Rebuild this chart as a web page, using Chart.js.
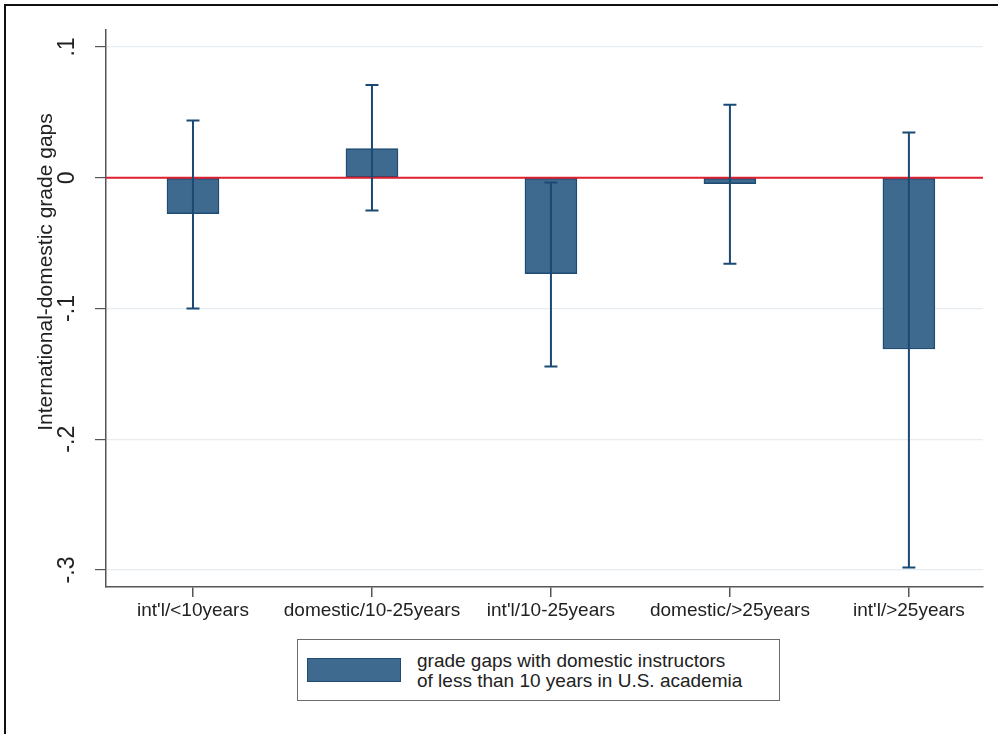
<!DOCTYPE html>
<html>
<head>
<meta charset="utf-8">
<script src="https://cdn.jsdelivr.net/npm/chart.js@4"></script>
<style>
  body { margin: 0; background: #fff; font-family: "Liberation Sans", Arial, sans-serif; }
  #wrap { position: relative; width: 998px; height: 734px; overflow: hidden; }
  #frame { position: absolute; left: 4px; top: 4px; width: 1100px; height: 900px;
           border-left: 2px solid #111; border-top: 2px solid #111; pointer-events: none; }
  #legend { position: absolute; left: 297px; top: 639px; width: 481px; height: 60px;
            border: 1.5px solid #6b6b6b; background: #fff; }
  #legend .swatch { position: absolute; left: 9px; top: 18px; width: 92px; height: 22px;
                    background: #3e6a8f; border: 1.5px solid #1d4b72; }
  #legend .text { position: absolute; left: 119px; top: 11px; font-size: 19px; line-height: 20px;
                  color: #222; white-space: nowrap; }
</style>
</head>
<body>
<div id="wrap">
  <canvas id="gapChart"></canvas>
  <div id="frame"></div>
  <div id="legend">
    <div class="swatch"></div>
    <div class="text">grade gaps with domestic instructors<br>of less than 10 years in U.S. academia</div>
  </div>
</div>
<script>
// Danh mục nhóm giảng viên
const categories = ["int'l/<10years", "domestic/10-25years", "int'l/10-25years", "domestic/>25years", "int'l/>25years"];
const xPositions = [1, 2, 3, 4, 5];
// Chênh lệch điểm và khoảng tin cậy
const gaps = [-0.0275, 0.0224, -0.0734, -0.0046, -0.131];
const ciLower = [-0.100, -0.025, -0.1443, -0.0658, -0.298];
const ciUpper = [0.0438, 0.071, -0.0036, 0.0558, 0.0347];
// Nhãn trục y
const yTickValues = [0.1, 0, -0.1, -0.2, -0.3];
const yTickLabels = ['.1', '0', '-.1', '-.2', '-.3'];
const yTitle = 'International-domestic grade gaps';

const barColor = '#3e6a8f';
const barBorder = '#1d4b72';
const whiskerColor = '#1a4a73';

// Vẽ đường 0, thanh sai số, nhãn trục y xoay dọc
const extrasPlugin = {
    id: 'extras',
    afterDatasetsDraw(chart) {
        const ctx = chart.ctx;
        const xs = chart.scales.x;
        const ys = chart.scales.y;
        const area = chart.chartArea;

        // đường tham chiếu đỏ tại 0
        const y0 = ys.getPixelForValue(0);
        ctx.save();
        ctx.strokeStyle = '#e0202e';
        ctx.lineWidth = 2;
        ctx.beginPath();
        ctx.moveTo(area.left, y0);
        ctx.lineTo(area.right, y0);
        ctx.stroke();

        // thanh sai số
        ctx.strokeStyle = whiskerColor;
        ctx.lineWidth = 2;
        const cap = 6.5;
        for (let i = 0; i < xPositions.length; i++) {
            const x = xs.getPixelForValue(xPositions[i]);
            const yLo = ys.getPixelForValue(ciLower[i]);
            const yHi = ys.getPixelForValue(ciUpper[i]);
            ctx.beginPath();
            ctx.moveTo(x, yLo);
            ctx.lineTo(x, yHi);
            ctx.moveTo(x - cap, yLo);
            ctx.lineTo(x + cap, yLo);
            ctx.moveTo(x - cap, yHi);
            ctx.lineTo(x + cap, yHi);
            ctx.stroke();
        }
        ctx.restore();
    },
    afterDraw(chart) {
        const ctx = chart.ctx;
        const ys = chart.scales.y;
        ctx.save();
        ctx.fillStyle = '#222';
        ctx.textAlign = 'center';
        ctx.textBaseline = 'alphabetic';
        // nhãn tick trục y
        ctx.font = '23px "Liberation Sans", Arial, sans-serif';
        ys.ticks.forEach(t => {
            const y = ys.getPixelForValue(t.value);
            ctx.save();
            ctx.translate(74, y);
            ctx.rotate(-Math.PI / 2);
            ctx.fillText(t.label, 0, 0);
            ctx.restore();
        });
        // tiêu đề trục y
        ctx.font = '21px "Liberation Sans", Arial, sans-serif';
        ctx.translate(52, 272);
        ctx.rotate(-Math.PI / 2);
        ctx.fillText(yTitle, 0, 0);
        ctx.restore();
    }
};

const ctx = document.getElementById('gapChart').getContext('2d');
new Chart(ctx, {
    type: 'bar',
    data: {
        datasets: [{
            label: 'grade gaps with domestic instructors of less than 10 years in U.S. academia',
            data: xPositions.map((x, i) => ({ x: x, y: gaps[i] })),
            backgroundColor: barColor,
            borderColor: barBorder,
            borderWidth: 1.5,
            borderSkipped: false,
            barThickness: 52
        }]
    },
    options: {
        responsive: true,
        maintainAspectRatio: false,
        animation: false,
        layout: { padding: { left: 0, right: 15, top: 30, bottom: 107 } },
        plugins: {
            legend: { display: false },
            tooltip: { enabled: false }
        },
        scales: {
            x: {
                type: 'linear',
                offset: false,
                min: 0.514,
                max: 5.414,
                afterBuildTicks: scale => { scale.ticks = xPositions.map(v => ({ value: v })); },
                afterFit: scale => { scale.height = 40; },
                grid: { offset: false, drawOnChartArea: false, drawTicks: true, tickLength: 10, color: '#555', lineWidth: 1.5 },
                border: { color: '#555', width: 1.5 },
                ticks: {
                    autoSkip: false,
                    maxRotation: 0,
                    padding: 2,
                    color: '#222',
                    font: { family: '"Liberation Sans", Arial, sans-serif', size: 19 },
                    callback: value => categories[xPositions.indexOf(value)]
                }
            },
            y: {
                min: -0.313,
                max: 0.113,
                afterBuildTicks: scale => { scale.ticks = yTickValues.map(v => ({ value: v })); },
                afterFit: scale => { scale.width = 106; },
                grid: { color: '#e6ecef', lineWidth: 1.2, tickColor: '#555', tickLength: 11, drawTicks: true },
                border: { color: '#555', width: 1.5 },
                ticks: {
                    display: false,
                    callback: value => yTickLabels[yTickValues.indexOf(value)]
                }
            }
        }
    },
    plugins: [extrasPlugin]
});
</script>
</body>
</html>
